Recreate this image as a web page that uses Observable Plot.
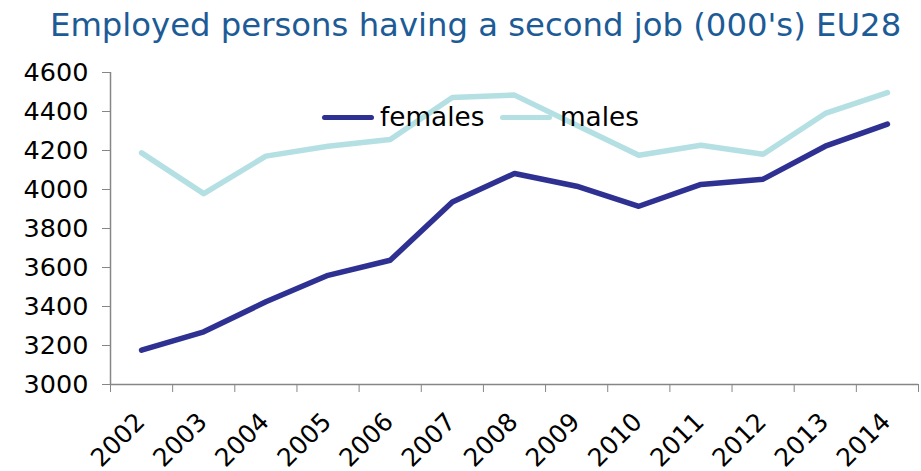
<!DOCTYPE html>
<html>
<head>
<meta charset="utf-8">
<script src="https://cdn.jsdelivr.net/npm/d3@7"></script>
<script src="https://cdn.jsdelivr.net/npm/@observablehq/plot@0.6"></script>
<style>
  body { margin: 0; background: white; width: 921px; height: 471px; overflow: hidden; position: relative; font-family: "DejaVu Sans", sans-serif; }
  #title { height: 46px; padding-top: 6px; padding-left: 50px; font-size: 32.3px; color: #1d5b97; white-space: nowrap; line-height: normal; }
  .leg { position: absolute; font-size: 26.3px; color: #000; line-height: 1; }
  .sw { position: absolute; height: 5px; border-radius: 3px; }
</style>
</head>
<body>
<div id="title">Employed persons having a second job (000's) EU28</div>
<div id="chart"></div>
<div class="sw" style="left:322px; top:115px; width:52px; background:#2e3192;"></div>
<div class="leg" style="left:380px; top:104px;">females</div>
<div class="sw" style="left:500px; top:115px; width:52px; background:#b5e0e3;"></div>
<div class="leg" style="left:560px; top:104px;">males</div>
<script>
const years = [2002, 2003, 2004, 2005, 2006, 2007, 2008, 2009, 2010, 2011, 2012, 2013, 2014];
const females = [3176, 3270, 3424, 3560, 3637, 3936, 4082, 4017, 3914, 4026, 4053, 4222, 4335];
const males = [4188, 3979, 4171, 4222, 4256, 4472, 4484, 4330, 4176, 4227, 4181, 4390, 4497];
const yTicks = [3000, 3200, 3400, 3600, 3800, 4000, 4200, 4400, 4600];

const data = years.map((y, i) => ({year: y, females: females[i], males: males[i]}));
const bounds = [years[0] - 0.5, ...years.map(y => y + 0.5)];
const axisColor = "#868686";

const chart = Plot.plot({
  width: 921,
  height: 419,
  marginTop: 20,
  marginBottom: 87,
  marginLeft: 110,
  marginRight: 3,
  style: {fontFamily: "DejaVu Sans", fontSize: "25px", color: "#000", background: "white", overflow: "visible"},
  x: {type: "linear", domain: [bounds[0], bounds[bounds.length - 1]], label: null},
  y: {domain: [yTicks[0], yTicks[yTicks.length - 1]], label: null},
  marks: [
    Plot.axisY({ticks: yTicks, tickSize: 8, tickPadding: 14, stroke: axisColor, fill: "#000", fontSize: 25.5, tickFormat: d => String(d), label: null}),
    Plot.axisX({ticks: bounds, tickSize: 8, text: null, stroke: axisColor, label: null}),
    Plot.text(years, {x: d => d, frameAnchor: "bottom", rotate: -45, textAnchor: "end", lineAnchor: "middle", dx: -1, dy: 33, fontSize: 25, fill: "#000", text: d => String(d)}),
    Plot.ruleY([yTicks[0]], {stroke: axisColor, strokeWidth: 1.5}),
    Plot.ruleX([bounds[0]], {stroke: axisColor, strokeWidth: 1.5}),
    Plot.line(data, {x: "year", y: "males", stroke: "#b5e0e3", strokeWidth: 5.5}),
    Plot.line(data, {x: "year", y: "females", stroke: "#2e3192", strokeWidth: 5.5})
  ]
});
document.getElementById("chart").appendChild(chart);
</script>
</body>
</html>
